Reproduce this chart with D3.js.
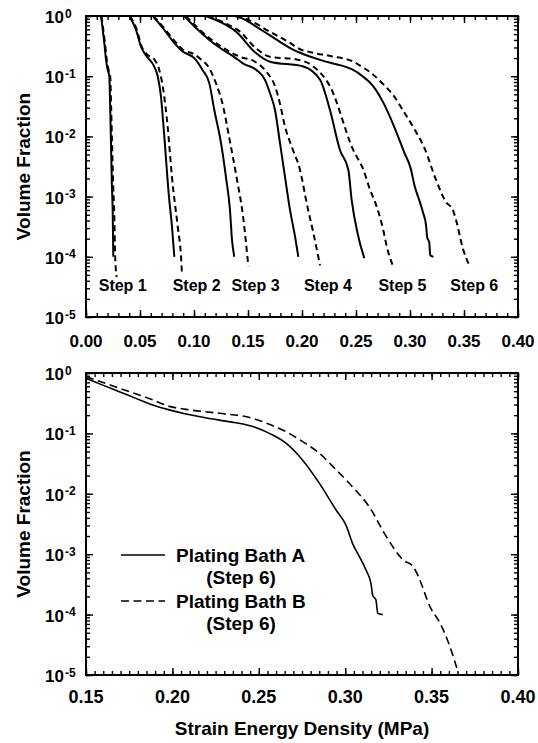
<!DOCTYPE html>
<html>
<head>
<meta charset="utf-8">
<script src="https://cdn.jsdelivr.net/npm/d3@7"></script>
<style>
  body { margin: 0; background: #fff; }
  svg { display: block; font-family: "Liberation Sans", Arial, sans-serif; font-weight: bold; }
</style>
</head>
<body>
<div id="chart"></div>
<script>

// step labels in the upper panel (x in MPa)
const stepLabels = ["Step 1", "Step 2", "Step 3", "Step 4", "Step 5", "Step 6"];
const stepLabelX = [0.034, 0.1025, 0.157, 0.224, 0.293, 0.3595];
const stepLabelY = 2.7e-5;

// [strain energy density, volume fraction]  A = solid, B = dashed
const step1A = [[0.0139,1],[0.0155,0.6],[0.0170,0.35],[0.0185,0.19],[0.0200,0.13],[0.0216,0.1],[0.0224,0.03],[0.0231,0.008],[0.0240,0.0015],[0.0247,6e-4],[0.0253,1e-4]];
const step1B = [[0.0143,1],[0.0160,0.6],[0.0176,0.35],[0.0192,0.19],[0.0208,0.13],[0.0224,0.1],[0.0233,0.03],[0.0241,0.008],[0.0252,0.0015],[0.0262,5e-4],[0.0270,1e-4],[0.0284,4.6e-5]];
const step2A = [[0.0401,1],[0.0463,0.59],[0.0509,0.31],[0.0556,0.22],[0.0632,0.144],[0.0664,0.1],[0.0694,0.046],[0.0725,0.01],[0.0766,0.0011],[0.0796,3.2e-4],[0.0818,1e-4]];
const step2B = [[0.0408,1],[0.0470,0.59],[0.0516,0.31],[0.0565,0.23],[0.0632,0.19],[0.0679,0.126],[0.0716,0.059],[0.0756,0.0145],[0.0796,0.0021],[0.0849,3.2e-4],[0.0880,1e-4],[0.0889,5e-5]];
const step3A = [[0.0618,1],[0.0725,0.59],[0.0818,0.355],[0.0895,0.257],[0.1003,0.2],[0.1080,0.126],[0.1142,0.076],[0.1188,0.0275],[0.1250,0.0078],[0.1296,0.0021],[0.1333,6e-4],[0.1352,1.9e-4],[0.1373,1e-4]];
const step3B = [[0.0625,1],[0.0733,0.6],[0.0828,0.37],[0.0905,0.27],[0.0995,0.235],[0.1065,0.19],[0.1142,0.135],[0.1204,0.076],[0.1269,0.032],[0.1324,0.01],[0.1394,0.0021],[0.1454,4.7e-4],[0.1503,7e-5]];
const step4A = [[0.0910,1],[0.1019,0.63],[0.1142,0.4],[0.1266,0.275],[0.1370,0.21],[0.1456,0.162],[0.1580,0.126],[0.1657,0.087],[0.1704,0.052],[0.1750,0.0275],[0.1796,0.0078],[0.1843,0.0021],[0.1889,6e-4],[0.1935,2.2e-4],[0.1966,1e-4]];
const step4B = [[0.0925,1],[0.1037,0.63],[0.1157,0.41],[0.1278,0.29],[0.1426,0.21],[0.1565,0.174],[0.1673,0.117],[0.1750,0.068],[0.1796,0.035],[0.1843,0.0145],[0.1911,0.0063],[0.1981,0.0028],[0.2044,7.7e-4],[0.2105,2.5e-4],[0.2167,7.2e-5]];
const step5A = [[0.1110,1],[0.1296,0.71],[0.1389,0.55],[0.1565,0.25],[0.1704,0.174],[0.2012,0.145],[0.2167,0.087],[0.2259,0.0275],[0.2352,0.0059],[0.2429,0.0028],[0.2460,8.7e-4],[0.2521,2.2e-4],[0.2577,9.5e-5]];
const step5B = [[0.1130,1],[0.1315,0.72],[0.1426,0.55],[0.1565,0.3],[0.1704,0.21],[0.1951,0.19],[0.2105,0.145],[0.2259,0.068],[0.2475,0.0059],[0.2568,0.0028],[0.2630,0.0013],[0.2692,6.8e-4],[0.2753,2.75e-4],[0.2784,1.5e-4],[0.2840,7.2e-5]];

// step 6, shown alone in the lower panel
const bathA = [[0.15,0.817],[0.1597,0.63],[0.1693,0.49],[0.1789,0.38],[0.1886,0.295],[0.1982,0.245],[0.2079,0.21],[0.2175,0.185],[0.2271,0.166],[0.2368,0.15],[0.2465,0.13],[0.2561,0.1],[0.2657,0.069],[0.2754,0.036],[0.2850,0.015],[0.2947,0.0054],[0.3005,0.003],[0.3043,0.0015],[0.3082,9.1e-4],[0.3120,5.5e-4],[0.3149,3.3e-4],[0.3159,2.1e-4],[0.3178,1.75e-4],[0.3188,1.05e-4],[0.3217,1e-4]];
const bathB = [[0.15,0.87],[0.1693,0.56],[0.1886,0.36],[0.1982,0.28],[0.2079,0.25],[0.2271,0.215],[0.2465,0.178],[0.2565,0.14],[0.2657,0.107],[0.2754,0.073],[0.2850,0.047],[0.2947,0.025],[0.3043,0.013],[0.3139,0.0061],[0.3236,0.002],[0.3336,8e-4],[0.3394,6.2e-4],[0.3423,4.3e-4],[0.3491,1.35e-4],[0.3549,7.2e-5],[0.3606,2.95e-5],[0.3655,1.07e-5]];
const step6A = [[0.138,1],[0.144,0.92]].concat(bathA);
const step6B = [[0.139,1],[0.145,0.94]].concat(bathB.filter(d => d[1] >= 7e-5));

const legendLabels = ["Plating Bath A", "Plating Bath B"];
const legendSub = "(Step 6)";

const topXTicks = [0, 0.05, 0.10, 0.15, 0.20, 0.25, 0.30, 0.35, 0.40];
const bottomXTicks = [0.15, 0.20, 0.25, 0.30, 0.35, 0.40];
const yTicks = [1, 1e-1, 1e-2, 1e-3, 1e-4, 1e-5];
const yExponents = ["0", "-1", "-2", "-3", "-4", "-5"];

const topSteps = [[step1A, step1B], [step2A, step2B], [step3A, step3B], [step4A, step4B], [step5A, step5B], [step6A, step6B]];

let dim = {'width': 538, 'height': 743};

let svg = d3.select('#chart').append('svg')
    .attr('width', dim.width)
    .attr('height', dim.height);

let xTop = d3.scaleLinear().domain([0, 0.4]).range([86, 518]);
let yTop = d3.scaleLog().domain([1e-5, 1]).range([317, 16]);
let xBot = d3.scaleLinear().domain([0.15, 0.4]).range([86, 518]);
let yBot = d3.scaleLog().domain([1e-5, 1]).range([675, 373]);

function drawPanel(id, x, y, xTicks, xLabelSize, xLabelBase) {
    const [l, r] = x.range(), [b, t] = y.range();
    const g = svg.append('g');

    // inward ticks on all four sides
    [[d3.axisBottom, b], [d3.axisTop, t]].forEach(([ax, yy]) => {
        g.append('g').attr('transform', `translate(0,${yy})`)
            .call(ax(x).ticks(40).tickSize(-4).tickFormat(''));
        g.append('g').attr('transform', `translate(0,${yy})`)
            .call(ax(x).tickValues(xTicks).tickSize(-7).tickFormat(''));
    });
    [[d3.axisLeft, l], [d3.axisRight, r]].forEach(([ax, xx]) => {
        g.append('g').attr('transform', `translate(${xx},0)`)
            .call(ax(y).tickValues(y.ticks()).tickSize(-4).tickFormat(''));
        g.append('g').attr('transform', `translate(${xx},0)`)
            .call(ax(y).tickValues(yTicks).tickSize(-7).tickFormat(''));
    });
    g.selectAll('.domain').remove();
    g.selectAll('.tick line').attr('stroke', '#000').attr('stroke-width', 1.4);

    g.append('rect')
        .attr('x', l).attr('y', t).attr('width', r - l).attr('height', b - t)
        .attr('fill', 'none').attr('stroke', '#000').attr('stroke-width', 2);

    g.selectAll('.xlab')
        .data(xTicks)
        .enter()
        .append('text')
        .attr('x', d => x(d))
        .attr('y', xLabelBase)
        .attr('text-anchor', 'middle')
        .attr('font-size', xLabelSize)
        .text(d => d3.format('.2f')(d));

    let yl = g.selectAll('.ylab')
        .data(yTicks)
        .enter()
        .append('text')
        .attr('x', 45)
        .attr('y', d => y(d) + 7)
        .attr('font-size', 17);
    yl.append('tspan').text('10');
    yl.append('tspan').attr('dx', 1).attr('dy', -5.5).attr('font-size', 12)
        .text((d, i) => yExponents[i]);

    g.append('text')
        .attr('transform', `translate(30,${(t + b) / 2}) rotate(-90)`)
        .attr('text-anchor', 'middle')
        .attr('font-size', 19)
        .text('Volume Fraction');

    svg.append('clipPath').attr('id', id)
        .append('rect').attr('x', l).attr('y', t).attr('width', r - l).attr('height', b - t);
    return g;
}

drawPanel('clipTop', xTop, yTop, topXTicks, 17, 346.5);
drawPanel('clipBot', xBot, yBot, bottomXTicks, 18, 703);

let lineTop = d3.line().x(d => xTop(d[0])).y(d => yTop(d[1])).curve(d3.curveMonotoneX);
let lineBot = d3.line().x(d => xBot(d[0])).y(d => yBot(d[1])).curve(d3.curveMonotoneX);

let topCurves = svg.append('g').attr('clip-path', 'url(#clipTop)');
topSteps.forEach(pair => {
    pair.forEach((series, i) => {
        topCurves.append('path')
            .attr('d', lineTop(series))
            .attr('fill', 'none')
            .attr('stroke', '#000')
            .attr('stroke-width', 2)
            .attr('stroke-dasharray', i ? '6,4' : null);
    });
});

svg.selectAll('.steplab')
    .data(stepLabels)
    .enter()
    .append('text')
    .attr('x', (d, i) => xTop(stepLabelX[i]))
    .attr('y', yTop(stepLabelY))
    .attr('text-anchor', 'middle')
    .attr('font-size', 16)
    .text(d => d);

let botCurves = svg.append('g').attr('clip-path', 'url(#clipBot)');
[bathA, bathB].forEach((series, i) => {
    botCurves.append('path')
        .attr('d', lineBot(series))
        .attr('fill', 'none')
        .attr('stroke', '#000')
        .attr('stroke-width', 1.6)
        .attr('stroke-dasharray', i ? '8,4.5' : null);
});

// legend
let leg = svg.append('g');
legendLabels.forEach((lab, i) => {
    let yy = 555 + i * 46;
    leg.append('line')
        .attr('x1', 121).attr('x2', 165).attr('y1', yy).attr('y2', yy)
        .attr('stroke', '#000').attr('stroke-width', 1.6)
        .attr('stroke-dasharray', i ? '8,4.5' : null);
    leg.append('text').attr('x', 176).attr('y', yy + 7)
        .attr('font-size', 19).text(lab);
    leg.append('text').attr('x', 241).attr('y', yy + 29)
        .attr('text-anchor', 'middle')
        .attr('font-size', 19).text(legendSub);
});

svg.append('text')
    .attr('x', 302)
    .attr('y', 735)
    .attr('text-anchor', 'middle')
    .attr('font-size', 19)
    .text('Strain Energy Density (MPa)');

</script>
</body>
</html>
